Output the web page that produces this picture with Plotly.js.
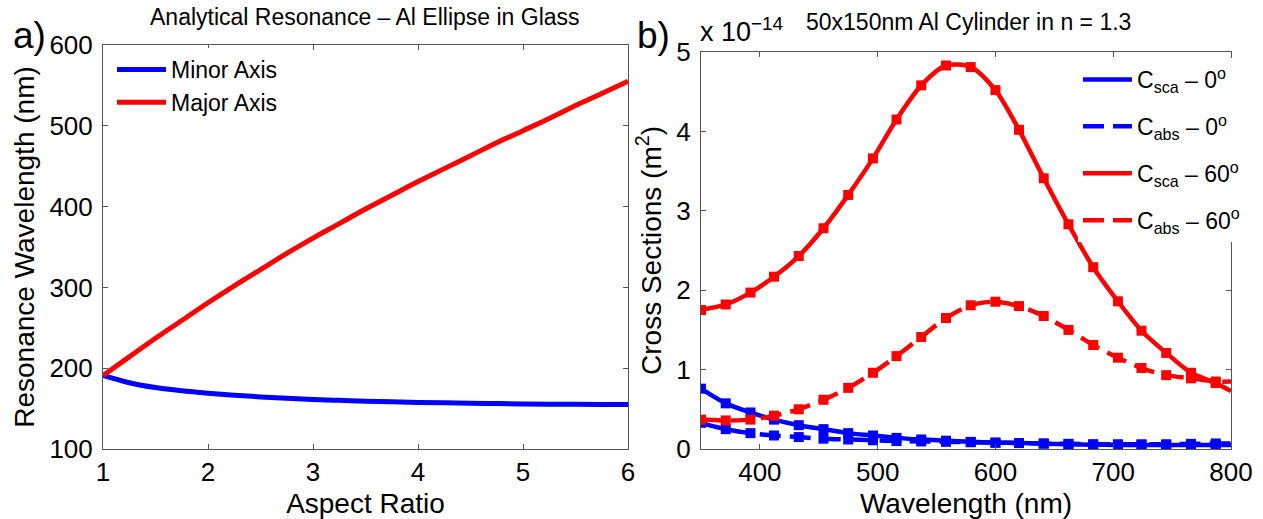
<!DOCTYPE html>
<html>
<head>
<meta charset="utf-8">
<script src="https://cdn.plot.ly/plotly-3.0.1.min.js"></script>
<style>
  html, body { margin: 0; padding: 0; background: #ffffff; }
  #chart { width: 1263px; height: 519px; }
</style>
</head>
<body>
<div id="chart"></div>
<script>
// (a) Analytical dipole resonance of an Al ellipse in glass
const aspectRatio = [1, 1.25, 1.5, 1.75, 2, 2.25, 2.5, 2.75, 3, 3.25, 3.5,
                     3.75, 4, 4.25, 4.5, 4.75, 5, 5.25, 5.5, 5.75, 6];
const minorAxisNm = [191, 182, 176, 172, 169, 166.5, 164.5, 162.8, 161.3, 160.2, 159.2,
                     158.4, 157.7, 157.1, 156.6, 156.2, 155.8, 155.5, 155.3, 155.2, 155.2];
const majorAxisNm = [191, 214, 237, 259, 281, 302, 322, 342, 361, 379, 397,
                     414, 431, 447, 463, 479, 494, 509, 525, 540, 555];

// (b) Cross sections of a 50x150 nm Al cylinder in n = 1.3, in units of 1e-14 m^2
const wavelengthNm = [350, 371, 392, 412, 433, 454, 475, 496, 516, 537, 558, 579,
                      600, 620, 641, 662, 683, 704, 724, 745, 766, 787, 800];
const cSca0  = [0.76, 0.575, 0.46, 0.37, 0.30, 0.25, 0.20, 0.17, 0.14, 0.12, 0.105, 0.09,
                0.08, 0.075, 0.067, 0.06, 0.055, 0.05, 0.05, 0.05, 0.05, 0.05, 0.05];
const cAbs0  = [0.33, 0.25, 0.20, 0.17, 0.15, 0.13, 0.12, 0.11, 0.10, 0.095, 0.09, 0.085,
                0.08, 0.075, 0.07, 0.065, 0.06, 0.06, 0.06, 0.06, 0.065, 0.07, 0.07];
const cSca60 = [1.75, 1.82, 1.97, 2.17, 2.43, 2.78, 3.20, 3.66, 4.15, 4.58, 4.83, 4.81,
                4.52, 4.02, 3.41, 2.83, 2.29, 1.86, 1.49, 1.21, 0.96, 0.83, 0.73];
const cAbs60 = [0.37, 0.36, 0.37, 0.42, 0.50, 0.62, 0.77, 0.96, 1.17, 1.41, 1.65, 1.81,
                1.855, 1.80, 1.675, 1.50, 1.31, 1.15, 1.02, 0.93, 0.89, 0.85, 0.85];

const legendLabelsA = ['Minor Axis', 'Major Axis'];
const legendLabelsB = [
  'C<sub>sca</sub> \u2013 0<sup>o</sup>',
  'C<sub>abs</sub> \u2013 0<sup>o</sup>',
  'C<sub>sca</sub> \u2013 60<sup>o</sup>',
  'C<sub>abs</sub> \u2013 60<sup>o</sup>'
];

const W = 1263, H = 519;
const px = x => x / W;          // pixel column -> paper x
const py = y => 1 - y / H;      // pixel row    -> paper y

const BLUE = '#0000ff', RED = '#ff0000';
const FONT = 'Liberation Sans, Arial, Helvetica, sans-serif';
const DASH = '21px,9px';

// the last sample (800 nm) closes the curve but carries no marker
const markedCount = wavelengthNm.length - 1;

function cylLine(y, name, color, dash, group) {
  return {
    x: wavelengthNm, y: y, name: name,
    xaxis: 'x2', yaxis: 'y2', legend: 'legend', legendgroup: group,
    mode: 'lines',
    line: { color: color, width: 4.5, dash: dash, shape: 'spline', smoothing: 0.8 }
  };
}
function cylMarkers(y, color, group) {
  return {
    x: wavelengthNm.slice(0, markedCount), y: y.slice(0, markedCount),
    xaxis: 'x2', yaxis: 'y2', legendgroup: group, showlegend: false,
    mode: 'markers',
    marker: { symbol: 'square', size: 10, color: color, line: { width: 0 } }
  };
}

const traces = [
  { x: aspectRatio, y: minorAxisNm, name: legendLabelsA[0], mode: 'lines',
    xaxis: 'x', yaxis: 'y', legend: 'legend2',
    line: { color: BLUE, width: 5, shape: 'spline' } },
  { x: aspectRatio, y: majorAxisNm, name: legendLabelsA[1], mode: 'lines',
    xaxis: 'x', yaxis: 'y', legend: 'legend2',
    line: { color: RED, width: 5, shape: 'spline' } },
  cylLine(cSca0,  legendLabelsB[0], BLUE, 'solid', 'g1'),
  cylMarkers(cSca0, BLUE, 'g1'),
  cylLine(cAbs0,  legendLabelsB[1], BLUE, DASH, 'g2'),
  cylMarkers(cAbs0, BLUE, 'g2'),
  cylLine(cSca60, legendLabelsB[2], RED, 'solid', 'g3'),
  cylMarkers(cSca60, RED, 'g3'),
  cylLine(cAbs60, legendLabelsB[3], RED, DASH, 'g4'),
  cylMarkers(cAbs60, RED, 'g4')
];

const axisStyle = {
  showline: true, linecolor: '#555', linewidth: 1, mirror: 'ticks',
  ticks: 'inside', ticklen: 5, tickwidth: 1, tickcolor: '#555',
  showgrid: false, zeroline: false, automargin: false,
  tickfont: { family: FONT, size: 26, color: '#000' }
};
const xAxisStyle = Object.assign({}, axisStyle, { ticklabelstandoff: 0 });
const yAxisStyle = Object.assign({}, axisStyle, { ticklabelstandoff: 4 });
const titleFont = { family: FONT, size: 28, color: '#000' };

const layout = {
  width: W, height: H, autosize: false,
  margin: { l: 0, r: 0, t: 0, b: 0 },
  paper_bgcolor: '#fff', plot_bgcolor: '#fff',
  font: { family: FONT, color: '#000' },
  showlegend: true,
  xaxis: Object.assign({}, xAxisStyle, {
    domain: [px(103), px(628)], range: [1, 6], dtick: 1, anchor: 'y',
    title: { text: 'Aspect Ratio', font: titleFont, standoff: 9 }
  }),
  yaxis: Object.assign({}, yAxisStyle, {
    domain: [py(449), py(45)], range: [100, 600], dtick: 100, anchor: 'x',
    title: { text: 'Resonance Wavelength (nm)', font: titleFont, standoff: 6 }
  }),
  xaxis2: Object.assign({}, xAxisStyle, {
    domain: [px(701), px(1231)], range: [350, 800],
    tickvals: [400, 500, 600, 700, 800], anchor: 'y2',
    title: { text: 'Wavelength (nm)', font: titleFont, standoff: 9 }
  }),
  yaxis2: Object.assign({}, yAxisStyle, {
    domain: [py(449), py(52)], range: [0, 5], dtick: 1, anchor: 'x2',
    title: { text: 'Cross Sections (m<sup>2</sup>)', font: titleFont, standoff: 6 }
  }),
  legend: {
    x: px(1078), y: py(58), xanchor: 'left', yanchor: 'top',
    bgcolor: '#fff', borderwidth: 0, itemwidth: 49,
    tracegroupgap: 14, traceorder: 'grouped',
    font: { family: FONT, size: 23, color: '#000' }
  },
  legend2: {
    x: px(112), y: py(48), xanchor: 'left', yanchor: 'top',
    bgcolor: '#fff', borderwidth: 0, itemwidth: 49,
    font: { family: FONT, size: 23, color: '#000' }
  },
  annotations: [
    { text: 'Analytical Resonance \u2013 Al Ellipse in Glass', xref: 'paper', yref: 'paper',
      x: px(365), y: py(17), xanchor: 'center', yanchor: 'middle', showarrow: false,
      font: { family: FONT, size: 23, color: '#000' } },
    { text: '50x150nm Al Cylinder in n = 1.3', xref: 'paper', yref: 'paper',
      x: px(968), y: py(22), xanchor: 'center', yanchor: 'middle', showarrow: false,
      font: { family: FONT, size: 23, color: '#000' } },
    { text: 'x 10<sup>\u221214</sup>', xref: 'paper', yref: 'paper',
      x: px(698), y: py(30), xanchor: 'left', yanchor: 'middle', showarrow: false,
      font: { family: FONT, size: 27, color: '#000' } },
    { text: 'a)', xref: 'paper', yref: 'paper',
      x: px(29), y: py(36), xanchor: 'center', yanchor: 'middle', showarrow: false,
      font: { family: FONT, size: 37, color: '#000' } },
    { text: 'b)', xref: 'paper', yref: 'paper',
      x: px(654), y: py(36), xanchor: 'center', yanchor: 'middle', showarrow: false,
      font: { family: FONT, size: 37, color: '#000' } }
  ]
};

Plotly.newPlot('chart', traces, layout, { displayModeBar: false, staticPlot: true });
</script>
</body>
</html>
